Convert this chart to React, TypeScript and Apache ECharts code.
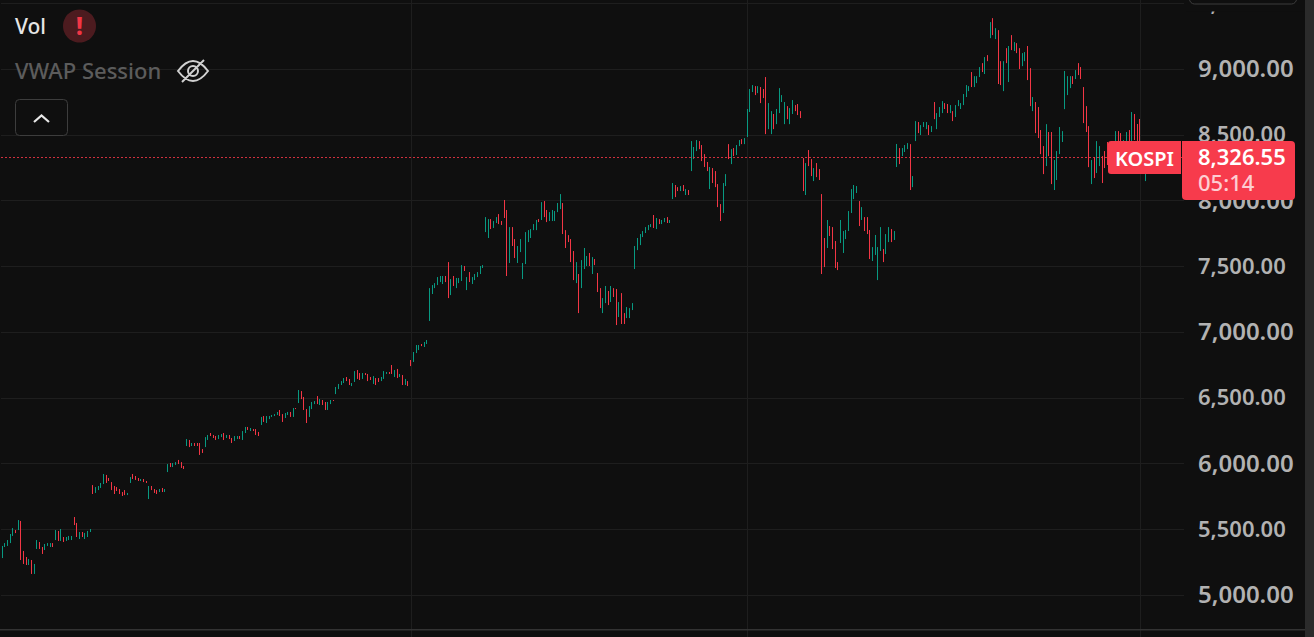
import React, { useEffect, useRef } from "react";
import * as echarts from "echarts";

const highs = [
  5373,5395,5418,5464,5509,5494,5570,5563,5335,5289,
  5274,5266,5236,5418,5403,5365,5388,5395,5395,5395,
  5494,5487,5502,5441,5441,5449,5449,5593,5548,5479,
  5479,5472,5487,5502,5836,5821,5829,5852,5920,5913,
  5890,5859,5829,5821,5806,5783,5798,5776,5897,5920,
  5905,5890,5882,5882,5867,5829,5829,5806,5798,5806,
  5814,5806,5996,6004,6004,6011,6027,6011,5981,6186,
  6179,6156,6156,6156,6156,6110,6201,6217,6232,6217,
  6209,6217,6224,6232,6217,6217,6194,6209,6209,6209,
  6247,6278,6278,6270,6262,6262,6240,6354,6361,6361,
  6361,6369,6376,6392,6407,6376,6384,6392,6392,6422,
  6422,6559,6551,6506,6414,6437,6468,6475,6513,6490,
  6483,6468,6468,6483,6483,6582,6605,6627,6650,6658,
  6643,6612,6703,6711,6688,6688,6688,6681,6658,6665,
  6650,6650,6658,6703,6696,6696,6749,6711,6719,6681,
  6673,6643,6627,6787,6848,6901,6901,6909,6924,6939,
  7334,7357,7372,7418,7426,7426,7426,7532,7403,7426,
  7411,7411,7509,7502,7418,7456,7418,7441,7456,7502,
  7509,7874,7859,7859,7844,7874,7897,7844,8004,7928,
  7798,7798,7707,7654,7707,7525,7760,7775,7783,7821,
  7852,7859,7988,7996,7928,7912,7928,7920,7981,8049,
  7981,7775,7737,7707,7616,7532,7441,7547,7639,7578,
  7601,7570,7555,7449,7334,7258,7350,7312,7350,7334,
  7327,7228,7296,7144,7190,7182,7220,7654,7715,7745,
  7768,7798,7814,7821,7890,7867,7859,7852,7867,7874,
  7852,8133,8118,8102,8110,8118,8087,8080,8452,8407,
  8460,8452,8422,8353,8293,8255,8247,8224,8125,7973,
  8133,8201,8429,8391,8399,8422,8460,8467,8475,8696,
  8848,8878,8870,8870,8863,8848,8939,8741,8680,8658,
  8696,8855,8802,8749,8718,8703,8764,8726,8734,8680,
  8323,8285,8384,8315,8247,8285,8239,8049,7715,7852,
  7806,7798,7692,7532,7852,7768,7776,7920,8087,8118,
  8110,7996,7950,7874,7874,7776,7646,7738,7646,7798,
  7631,7745,7798,7783,7768,8430,8399,8399,8422,8437,
  8429,8186,8604,8597,8574,8597,8597,8574,8566,8749,
  8665,8711,8756,8741,8734,8726,8680,8726,8764,8741,
  8810,8878,8870,8977,8946,8946,9015,9045,9091,9106,
  9357,9387,9311,9296,9060,9060,9159,9175,9258,9205,
  9197,9159,9121,9129,9175,9007,8787,8749,8711,8536,
  8414,8581,8521,8521,8308,8376,8559,8528,8985,8946,
  8946,8946,8992,9045,9015,8863,8718,8566,8308,8331,
  8452,8414,8338,8376,8445,8384,8422,8528,8528,8513,
  8460,8521,8536,8673,8658,8582,8620,8422,8384,
];

const lows = [
  5281,5365,5373,5395,5449,5471,5494,5266,5236,5228,
  5228,5160,5160,5350,5350,5312,5342,5373,5365,5365,
  5418,5411,5411,5403,5411,5418,5418,5532,5441,5426,
  5441,5426,5441,5479,5768,5776,5798,5814,5844,5852,
  5867,5798,5768,5791,5768,5753,5760,5760,5852,5882,
  5875,5867,5867,5859,5852,5730,5798,5776,5768,5783,
  5783,5783,5935,5973,5973,5989,5996,5966,5958,6133,
  6125,6133,6133,6133,6065,6080,6125,6179,6209,6194,
  6179,6186,6201,6179,6194,6186,6156,6171,6186,6186,
  6179,6232,6255,6247,6247,6217,6209,6293,6316,6308,
  6338,6354,6361,6369,6361,6316,6346,6369,6354,6354,
  6414,6460,6490,6407,6308,6354,6414,6452,6452,6445,
  6445,6407,6407,6452,6475,6528,6566,6597,6612,6627,
  6597,6589,6620,6643,6635,6643,6673,6627,6635,6605,
  6597,6620,6627,6643,6681,6681,6681,6658,6650,6658,
  6597,6597,6589,6741,6772,6840,6863,6893,6886,6909,
  7084,7289,7334,7357,7380,7365,7380,7258,7281,7350,
  7334,7372,7388,7464,7319,7380,7365,7395,7418,7441,
  7487,7760,7715,7783,7791,7829,7821,7814,7867,7426,
  7525,7654,7563,7525,7608,7403,7517,7684,7715,7775,
  7775,7836,7852,7874,7836,7844,7844,7844,7912,7935,
  7745,7639,7684,7532,7395,7372,7144,7334,7479,7502,
  7502,7441,7509,7304,7182,7144,7220,7205,7228,7266,
  7053,7114,7061,7061,7106,7106,7167,7479,7623,7661,
  7722,7753,7775,7798,7791,7783,7821,7821,7836,7829,
  7829,8011,8026,8072,8072,8072,8042,8042,8224,8315,
  8376,8391,8300,8255,8224,8087,8133,8102,7950,7844,
  7905,8110,8315,8277,8338,8346,8414,8429,8429,8483,
  8673,8825,8802,8817,8741,8779,8505,8543,8505,8543,
  8581,8665,8749,8581,8619,8581,8658,8680,8650,8627,
  8072,8042,8262,8186,8148,8178,8156,7441,7494,7639,
  7730,7631,7487,7471,7677,7601,7707,7768,7905,8011,
  8057,7806,7852,7768,7745,7555,7540,7586,7395,7616,
  7532,7593,7684,7684,7700,8255,8277,8338,8369,8391,
  8080,8102,8452,8513,8498,8559,8543,8498,8521,8619,
  8543,8635,8665,8696,8665,8665,8604,8635,8718,8696,
  8726,8787,8832,8863,8863,8893,8939,8977,8962,9060,
  9235,9258,9228,8886,8878,8832,9045,8901,9144,9137,
  9121,9000,9022,9060,8916,8718,8680,8513,8475,8353,
  8201,8262,8338,8125,8080,8156,8353,8445,8695,8802,
  8855,8886,8924,8954,8924,8589,8521,8254,8125,8171,
  8209,8262,8133,8247,8270,8209,8270,8308,8323,8308,
  8308,8308,8346,8384,8460,8384,8308,8232,8148,
];

const directions = [
  "GGGGGRGRRR","GRGGRRGGGR","GRGRGGGRRG","RGGGRGGGGR","RRRRRRRGGR",
  "RRGRRGRRRG","RGGRGGRRRG","RGRRRRGGRR","RGGRGRRGGR","GGRGRRRGRG",
  "GGGGRRGGRG","RGRRRGGGRG","RRGGRGGGGR","RGGRRGRRRG","RRGGGRRGRG",
  "RGRRGGGRGG","GGGGGGRRGR","GGGRGRGGGG","GGGRGGRRRR","GRRGGGGGGG",
  "GRGRRGGGGG","RRRRRGRGGG","RGRRRGGRGR","RGRRGGGGGG","GGGGRGRGGR",
  "GGRRGRGRGG","GRRRRGRRRR","GGRGRGGRGG","GGRGRRRGGR","GGGGRGGRRR",
  "RGRRGRRRRG","RRRRGGGGGG","GRGRRRGGGG","RGGRGGRGGG","RGGRGGGRGR",
  "GGGRRGRGGG","GGGRGGGRGR","GRGRRGRGRG","RRGGRRGRRR","RGRRGGGGGG",
  "GRGRRRRRGR","GGRRRGGGRR","GGRGRRRRG",
].join("");

const currentPrice = 8326.55;
const countdown = "05:14";
const symbol = "KOSPI";
const legendVol = "Vol";
const legendVwap = "VWAP Session";
const emptySlotsAtRight = 14;
const verticalGridBars = [154, 280, 427];

const categories = Array.from({ length: highs.length + emptySlotsAtRight }, (_, i) => String(i + 1));
const candles = highs.map((h, i) =>
  directions[i] === "G" ? [lows[i], h, lows[i], h] : [h, lows[i], lows[i], h]
);

const BG = "#0f0f0f";
const GRID = "#1e1e1e";
const UP = "#089981";
const DOWN = "#f23645";
const TAG = "#f73b4c";
const FONT = '"Noto Sans", sans-serif';

echarts.graphic.registerShape(
  "eyeSlash",
  echarts.graphic.extendPath(
    "M0 12 C6 4 11 2 15 2 C19 2 24 4 30 12 C24 20 19 22 15 22 C11 22 6 20 0 12 Z M15 7 A5 5 0 1 0 15 17 A5 5 0 1 0 15 7 Z M4 23 L26 1",
    {}
  )
);

export default function App() {
  const ref = useRef<HTMLDivElement>(null);
  useEffect(() => {
    document.body.style.margin = "0";
    document.body.style.background = BG;
    document.body.style.overflow = "hidden";
    const chart = echarts.init(ref.current!, undefined, { renderer: "svg" });
    chart.setOption({
      animation: false,
      backgroundColor: BG,
      grid: { left: 1, top: 0, width: 1183, height: 660.75, outerBoundsMode: "none" },
      xAxis: {
        type: "category",
        data: categories,
        boundaryGap: true,
        axisLine: { show: false },
        axisTick: { show: false },
        axisLabel: { show: false },
        splitLine: {
          show: true,
          alignWithLabel: true,
          interval: (i: number) => verticalGridBars.includes(i + 1),
          lineStyle: { color: GRID, width: 1 },
        },
      },
      yAxis: {
        type: "value",
        position: "right",
        min: 4500,
        max: 9525,
        interval: 500,
        axisLine: { show: false },
        axisTick: { show: false },
        splitLine: { show: true, showMaxLine: false, lineStyle: { color: GRID, width: 1 } },
        axisLabel: {
          align: "left",
          margin: 14,
          showMaxLabel: false,
          showMinLabel: false,
          verticalAlign: "middle",
          formatter: (v: number) => {
            const s = v.toLocaleString("en-US", { minimumFractionDigits: 2, maximumFractionDigits: 2 });
            return v % 1000 === 0 ? `{major|${s}}` : `{minor|${s}}`;
          },
          rich: {
            major: { fontFamily: FONT, fontSize: 24, fontWeight: 600, color: "#b2b2b2", padding: [0, 0, 3, 0] },
            minor: { fontFamily: FONT, fontSize: 22, fontWeight: 600, color: "#b2b2b2", padding: [0, 0, 3, 0] },
          },
        },
      },
      series: [
        {
          type: "candlestick",
          data: candles,
          barWidth: 1,
          itemStyle: { color: UP, color0: DOWN, borderColor: UP, borderColor0: DOWN, borderWidth: 1 },
          markLine: {
            silent: true,
            symbol: "none",
            label: { show: false },
            lineStyle: { color: DOWN, type: [2, 2], width: 1, opacity: 0.85 },
            data: [{ yAxis: currentPrice }],
          },
        },
      ],
      graphic: [
        { type: "text", z: 100, left: 15, top: 15, style: { text: legendVol, fontFamily: FONT, fontSize: 21, fontWeight: 500, fill: "#e6e6e6" } },
        { type: "circle", z: 100, shape: { cx: 79.5, cy: 26, r: 16.5 }, style: { fill: "#4c1b1f" } },
        { type: "text", z: 101, x: 79.5, y: 25, style: { text: "!", fontFamily: FONT, fontSize: 24, fontWeight: 800, fill: "#f23645", align: "center", verticalAlign: "middle" } },
        { type: "text", z: 100, left: 15, top: 59, style: { text: legendVwap, fontFamily: FONT, fontSize: 22, fontWeight: 500, fill: "#5c5c5c" } },
        { type: "eyeSlash", z: 100, x: 178, y: 59, style: { fill: "none", stroke: "#d0d0d0", lineWidth: 2 } },
        { type: "rect", z: 100, shape: { x: 15.5, y: 99.5, width: 52, height: 36, r: 4 }, style: { fill: BG, stroke: "#3d3d3d", lineWidth: 1 } },
        { type: "polyline", z: 101, shape: { points: [[34, 122], [41.5, 115.5], [49, 122]] }, style: { fill: "none", stroke: "#e8e8e8", lineWidth: 2.2 } },
        { type: "rect", z: 100, shape: { x: 1186, y: 0, width: 118, height: 11.5 }, style: { fill: BG } },
        { type: "rect", z: 101, shape: { x: 1189.5, y: -12, width: 107, height: 16, r: 5 }, style: { fill: BG, stroke: "#3d3d3d", lineWidth: 1 } },
        { type: "rect", z: 102, shape: { x: 1108, y: 141, width: 73, height: 33, r: [3, 0, 0, 3] }, style: { fill: TAG } },
        { type: "rect", z: 102, shape: { x: 1182, y: 141, width: 113, height: 59, r: [0, 4, 4, 4] }, style: { fill: TAG } },
        { type: "text", z: 103, x: 1144.5, y: 158, style: { text: symbol, fontFamily: FONT, fontSize: 20, fontWeight: 600, fill: "#ffffff", align: "center", verticalAlign: "middle" } },
        { type: "text", z: 103, x: 1198, y: 156, style: { text: currentPrice.toFixed(2).replace(/^(\d)/, "$1,"), fontFamily: FONT, fontSize: 22, fontWeight: 600, fill: "#ffffff", align: "left", verticalAlign: "middle" } },
        { type: "text", z: 103, x: 1198, y: 182, style: { text: countdown, fontFamily: FONT, fontSize: 22, fontWeight: 500, fill: "rgba(255,255,255,0.75)", align: "left", verticalAlign: "middle" } },
        { type: "rect", z: 99, shape: { x: 0, y: 629, width: 1305, height: 1.5 }, style: { fill: "#333333" } },
        { type: "rect", z: 104, shape: { x: 1305, y: 0, width: 9, height: 637 }, style: { fill: "#2b2b2b" } },
      ],
    });
    return () => chart.dispose();
  }, []);
  return <div ref={ref} style={{ width: 1314, height: 637 }} />;
}
